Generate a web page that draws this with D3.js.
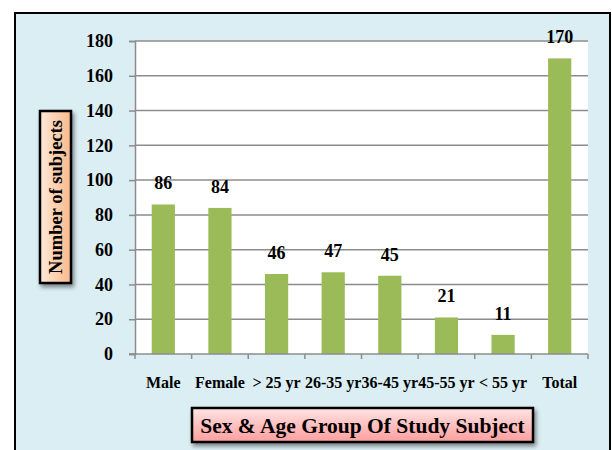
<!DOCTYPE html>
<html>
<head>
<meta charset="utf-8">
<script src="https://cdn.jsdelivr.net/npm/d3@7"></script>
<style>
  html, body { margin: 0; padding: 0; background: #fff; }
  svg { display: block; }
  svg text { font-family: "Liberation Serif", "Times New Roman", Times, serif; font-weight: bold; }
</style>
</head>
<body>
<div id="chart"></div>
<script>
// chart data
const categories = ['Male', 'Female', '> 25 yr', '26-35 yr', '36-45 yr', '45-55 yr', '< 55 yr', 'Total'];
const subjects = [86, 84, 46, 47, 45, 21, 11, 170];
const yTicks = [0, 20, 40, 60, 80, 100, 120, 140, 160, 180];
const yTitle = 'Number of subjects';
const xTitle = 'Sex & Age Group Of Study Subject';

const W = 612, H = 450;
const plot = { left: 135, right: 588, top: 41, bottom: 354 };

const svg = d3.select('#chart').append('svg').attr('width', W).attr('height', H);
const defs = svg.append('defs');

// gradients + shadow for the title boxes
const peach = defs.append('linearGradient').attr('id', 'peach')
  .attr('x1', 0).attr('y1', 0).attr('x2', 1).attr('y2', 0);
peach.append('stop').attr('offset', 0).attr('stop-color', '#fde9d9');
peach.append('stop').attr('offset', 1).attr('stop-color', '#fab98a');

const pink = defs.append('linearGradient').attr('id', 'pink')
  .attr('x1', 0).attr('y1', 0).attr('x2', 0).attr('y2', 1);
pink.append('stop').attr('offset', 0).attr('stop-color', '#ffe3e3');
pink.append('stop').attr('offset', 1).attr('stop-color', '#ff9e9e');

const shadow = defs.append('filter').attr('id', 'shadow')
  .attr('x', '-20%').attr('y', '-20%').attr('width', '150%').attr('height', '150%');
shadow.append('feDropShadow').attr('dx', 2).attr('dy', 3).attr('stdDeviation', 2)
  .attr('flood-color', '#000').attr('flood-opacity', 0.45);

// outer chart area
svg.append('rect')
  .attr('x', 15).attr('y', 13).attr('width', 595).attr('height', 460)
  .attr('fill', '#dbeef4').attr('stroke', '#000').attr('stroke-width', 2);

// plot area
svg.append('rect')
  .attr('x', plot.left).attr('y', plot.top)
  .attr('width', plot.right - plot.left).attr('height', plot.bottom - plot.top)
  .attr('fill', '#fff');

const x = d3.scaleBand().domain(categories).range([plot.left, plot.right]).paddingInner(0.59).paddingOuter(0.295);
const y = d3.scaleLinear().domain([0, 180]).range([plot.bottom, plot.top]);

// gridlines
svg.append('g').selectAll('line').data(yTicks.filter(d => d > 0)).join('line')
  .attr('x1', plot.left).attr('x2', plot.right)
  .attr('y1', d => y(d)).attr('y2', d => y(d))
  .attr('stroke', '#8c8c8c').attr('stroke-width', 1.5);

// y axis
const yAxis = svg.append('g').attr('transform', `translate(${plot.left},0)`)
  .call(d3.axisLeft(y).tickValues(yTicks).tickSize(6).tickPadding(16))
  .attr('font-family', null).attr('font-size', null);
yAxis.select('.domain').attr('stroke', '#8c8c8c').attr('stroke-width', 1.5);
yAxis.selectAll('.tick line').attr('stroke', '#8c8c8c').attr('stroke-width', 1.5);
yAxis.selectAll('.tick text').attr('font-size', 18).attr('fill', '#000');

// bars
svg.append('g').selectAll('rect').data(subjects).join('rect')
  .attr('x', (d, i) => x(categories[i]))
  .attr('y', d => y(d))
  .attr('width', x.bandwidth())
  .attr('height', d => y(0) - y(d))
  .attr('fill', '#9bbb59');

// x axis
const bandEdges = categories.map(c => x(c) - x.step() * x.paddingInner() / 2).concat([plot.right]);
svg.append('line')
  .attr('x1', plot.left - 6).attr('x2', plot.right)
  .attr('y1', plot.bottom).attr('y2', plot.bottom)
  .attr('stroke', '#8c8c8c').attr('stroke-width', 1.5);
svg.append('g').selectAll('line').data(bandEdges).join('line')
  .attr('x1', d => d).attr('x2', d => d)
  .attr('y1', plot.bottom).attr('y2', plot.bottom + 5)
  .attr('stroke', '#8c8c8c').attr('stroke-width', 1.5);

svg.append('g').selectAll('text').data(categories).join('text')
  .attr('x', d => x(d) + x.bandwidth() / 2)
  .attr('y', 388)
  .attr('text-anchor', 'middle')
  .attr('font-size', 16)
  .text(d => d);

// value labels
svg.append('g').selectAll('text').data(subjects).join('text')
  .attr('x', (d, i) => x(categories[i]) + x.bandwidth() / 2)
  .attr('y', d => y(d) - 15)
  .attr('text-anchor', 'middle')
  .attr('font-size', 18)
  .text(d => d);

// y axis title box
svg.append('rect')
  .attr('x', 40).attr('y', 111).attr('width', 31).attr('height', 172)
  .attr('fill', 'url(#peach)').attr('stroke', '#000').attr('stroke-width', 2.5)
  .attr('filter', 'url(#shadow)');
svg.append('text')
  .attr('transform', 'translate(62,197) rotate(-90)')
  .attr('text-anchor', 'middle')
  .attr('font-size', 18.5)
  .text(yTitle);

// x axis title box
svg.append('rect')
  .attr('x', 192).attr('y', 408).attr('width', 341).attr('height', 34)
  .attr('fill', 'url(#pink)').attr('stroke', '#000').attr('stroke-width', 2.5)
  .attr('filter', 'url(#shadow)');
svg.append('text')
  .attr('x', 362.5).attr('y', 432.5)
  .attr('text-anchor', 'middle')
  .attr('font-size', 21.5)
  .text(xTitle);
</script>
</body>
</html>
